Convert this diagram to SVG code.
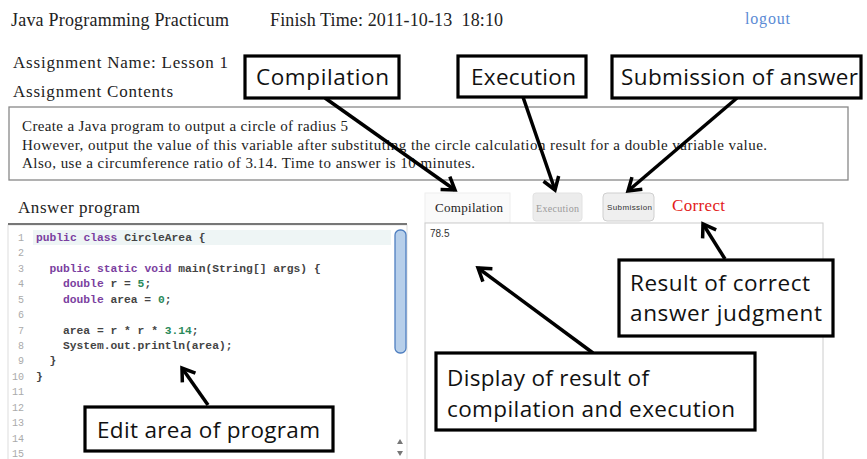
<svg xmlns="http://www.w3.org/2000/svg" width="867" height="459" viewBox="0 0 867 459">
<style>
.serif{font-family:"Liberation Serif","Times New Roman",serif;fill:#222}
.ann{font-family:"Open Sans","Liberation Sans",sans-serif;font-size:22.5px;fill:#111}
.box{fill:#fff;stroke:#000;stroke-width:3.2}
.conn{stroke:#000;stroke-width:3.5;fill:none;marker-end:url(#head)}
.code{font-family:"Liberation Mono","DejaVu Sans Mono",monospace;font-size:11.3px;font-weight:bold;fill:#444}
.ln{font-family:"Liberation Mono","DejaVu Sans Mono",monospace;font-size:10px;fill:#aaa;text-anchor:end}
.kw{fill:#7b3fa0}
.num{fill:#2a8a5a}
</style>
<defs>
<marker id="head" markerUnits="userSpaceOnUse" markerWidth="20" markerHeight="20" viewBox="0 0 20 20" refX="15" refY="10" orient="auto">
<path d="M3,2 L15,10 L3,18" fill="none" stroke="#000" stroke-width="3.5" stroke-linejoin="miter"/>
</marker>
</defs>
<rect width="867" height="459" fill="#fff"/>

<g id="header">
<text class="serif" x="11" y="26" font-size="18" textLength="218" lengthAdjust="spacing">Java Programming Practicum</text>
<text class="serif" x="270" y="26" font-size="18" textLength="233" lengthAdjust="spacing" xml:space="preserve">Finish Time: 2011-10-13  18:10</text>
<text x="745" y="24" font-family="Liberation Serif,serif" font-size="16" fill="#5b8bd5" textLength="45" lengthAdjust="spacing">logout</text>
<text class="serif" x="13" y="68" font-size="17" textLength="215" lengthAdjust="spacing">Assignment Name: Lesson 1</text>
<text class="serif" x="13" y="97" font-size="17" textLength="160" lengthAdjust="spacing">Assignment Contents</text>
</g>

<g id="contents">
<rect x="9" y="107" width="839" height="73" fill="#fff" stroke="#888" stroke-width="1.3"/>
<text class="serif" x="22" y="131" font-size="15" textLength="326" lengthAdjust="spacing">Create a Java program to output a circle of radius 5</text>
<text class="serif" x="22" y="150" font-size="15" textLength="745" lengthAdjust="spacing">However, output the value of this variable after substituting the circle calculation result for a double variable value.</text>
<text class="serif" x="22" y="168" font-size="15" textLength="453" lengthAdjust="spacing">Also, use a circumference ratio of 3.14. Time to answer is 10 minutes.</text>
</g>

<g id="editor">
<text class="serif" x="18" y="213" font-size="17" textLength="122" lengthAdjust="spacing">Answer program</text>
<rect x="8" y="225" width="399" height="250" fill="#fff" stroke="#ddd" stroke-width="1"/>
<line x1="8" y1="224" x2="407" y2="224" stroke="#777" stroke-width="2"/>
<rect x="33" y="230" width="358" height="15" fill="#eef5f5"/>
<text class="ln" x="24" y="241">1</text>
<text class="ln" x="24" y="256.4">2</text>
<text class="ln" x="24" y="271.9">3</text>
<text class="ln" x="24" y="287.3">4</text>
<text class="ln" x="24" y="302.7">5</text>
<text class="ln" x="24" y="318.2">6</text>
<text class="ln" x="24" y="333.6">7</text>
<text class="ln" x="24" y="349">8</text>
<text class="ln" x="24" y="364.4">9</text>
<text class="ln" x="24" y="379.9">10</text>
<text class="ln" x="24" y="395.3">11</text>
<text class="ln" x="24" y="410.7">12</text>
<text class="ln" x="24" y="426.2">13</text>
<text class="ln" x="24" y="441.6">14</text>
<text class="ln" x="24" y="457">15</text>
<text class="code" x="36" y="241"><tspan class="kw">public class</tspan> CircleArea {</text>
<text class="code" x="49.5" y="271.9"><tspan class="kw">public static void</tspan> main(String[] args) {</text>
<text class="code" x="63" y="287.3"><tspan class="kw">double</tspan> r = <tspan class="num">5</tspan>;</text>
<text class="code" x="63" y="302.7"><tspan class="kw">double</tspan> area = <tspan class="num">0</tspan>;</text>
<text class="code" x="63" y="333.6">area = r * r * <tspan class="num">3.14</tspan>;</text>
<text class="code" x="63" y="349">System.out.println(area);</text>
<text class="code" x="49.5" y="364.4">}</text>
<text class="code" x="36" y="379.9">}</text>
<rect x="395" y="230" width="11" height="123" rx="5" fill="#b7cfea" stroke="#4f7fc0" stroke-width="1.3"/>
<path d="M397,444 L400,439 L403,444 Z" fill="#777"/>
<path d="M397,451 L400,456 L403,451 Z" fill="#777"/>
</g>

<g id="buttons">
<rect x="425" y="193" width="85" height="30" fill="#fafafa" stroke="#eee" stroke-width="1"/>
<text class="serif" x="435" y="212" font-size="13" textLength="68" lengthAdjust="spacing">Compilation</text>
<rect x="533" y="193" width="49" height="28" rx="3" fill="#ececec" stroke="#e2e2e2"/>
<text x="536" y="212" font-family="Liberation Serif,serif" font-size="10" fill="#9a9a9a" textLength="43" lengthAdjust="spacing">Execution</text>
<rect x="603" y="193" width="51" height="28" rx="4" fill="#efefef" stroke="#cfcfcf"/>
<text x="607" y="210" font-family="Liberation Sans,sans-serif" font-size="8" fill="#333" textLength="45" lengthAdjust="spacing">Submission</text>
<text x="672" y="211" font-family="Liberation Serif,serif" font-size="17" fill="#e31a1a" textLength="53" lengthAdjust="spacing">Correct</text>
</g>

<g id="output">
<rect x="425" y="223" width="398" height="250" fill="#fff" stroke="#ccc" stroke-width="1"/>
<text x="430" y="237" font-family="Liberation Sans,sans-serif" font-size="10" fill="#333">78.5</text>
</g>

<g id="connectors">
<line class="conn" x1="325" y1="98" x2="455" y2="190"/>
<line class="conn" x1="523" y1="97" x2="555" y2="190"/>
<line class="conn" x1="737" y1="98" x2="628" y2="191"/>
<line class="conn" x1="725" y1="259" x2="703" y2="224"/>
<line class="conn" x1="593" y1="353" x2="478" y2="268"/>
<line class="conn" x1="208" y1="405" x2="182" y2="368"/>
</g>

<g id="note-compilation">
<rect class="box" x="245" y="56" width="154" height="42"/>
<text class="ann" x="256" y="85" textLength="133" lengthAdjust="spacing">Compilation</text>
</g>
<g id="note-execution">
<rect class="box" x="458" y="56" width="128" height="41"/>
<text class="ann" x="471" y="85" textLength="105" lengthAdjust="spacing">Execution</text>
</g>
<g id="note-submission">
<rect class="box" x="612" y="56" width="249" height="42"/>
<text class="ann" x="621" y="85" textLength="237" lengthAdjust="spacing">Submission of answer</text>
</g>
<g id="note-result">
<rect class="box" x="619" y="260" width="214" height="76"/>
<text class="ann" x="630" y="291" textLength="180" lengthAdjust="spacing">Result of correct</text>
<text class="ann" x="630" y="321" textLength="192" lengthAdjust="spacing">answer judgment</text>
</g>
<g id="note-display">
<rect class="box" x="436" y="353" width="319" height="77"/>
<text class="ann" x="447" y="386" textLength="202" lengthAdjust="spacing">Display of result of</text>
<text class="ann" x="447" y="417" textLength="288" lengthAdjust="spacing">compilation and execution</text>
</g>
<g id="note-edit">
<rect class="box" x="85" y="407" width="248" height="44"/>
<text class="ann" x="97" y="438" textLength="223" lengthAdjust="spacing">Edit area of program</text>
</g>
</svg>
